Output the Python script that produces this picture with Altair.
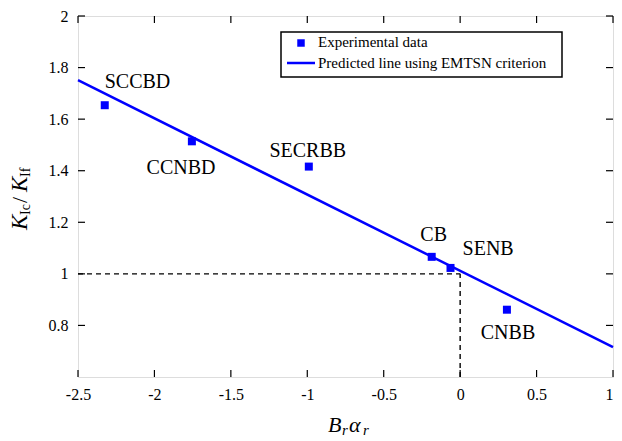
import altair as alt
import pandas as pd

# ---- data ----
specimens = ["SCCBD", "CCNBD", "SECRBB", "CB", "SENB", "CNBB"]
br_ar = [-2.325, -1.755, -0.99, -0.186, -0.063, 0.306]
kic_kif = [1.654, 1.514, 1.416, 1.066, 1.023, 0.861]

label_x = [-2.111, -1.826, -0.997, -0.173, 0.183, 0.313]
label_y = [1.72, 1.389, 1.455, 1.128, 1.074, 0.747]

line_x = [-2.5, 1.0]
line_y = [1.751, 0.716]

x_ticks = [-2.5, -2, -1.5, -1, -0.5, 0, 0.5, 1]
y_ticks = [0.8, 1, 1.2, 1.4, 1.6, 1.8, 2]

ref_h_x = [-2.5]
ref_h_x2 = [0.0]
ref_h_y = [1.0]
ref_v_x = [0.0]
ref_v_y = [0.6]
ref_v_y2 = [1.0]

legend_labels = ["Experimental data", "Predicted line using EMTSN criterion"]

FONT = "Liberation Serif"
BLUE = "#0000ff"
W, H = 535, 361

xscale = alt.Scale(domain=[-2.5, 1], nice=False, zero=False)
yscale = alt.Scale(domain=[0.6, 2], nice=False, zero=False)

x_axis = alt.Axis(values=x_ticks, ticks=False, domain=False, grid=False, labelFlush=False,
                  labelAlign={"condition": {"test": "datum.value == 1", "value": "right"},
                              "value": "center"},
                  labelExpr="toString(datum.value)", labelPadding=9,
                  labelFont=FONT, labelFontSize=16, labelColor="black", title=None)
y_axis = alt.Axis(values=y_ticks, ticks=False, domain=False, grid=False, labelFlush=False,
                  labelExpr="toString(datum.value)", labelPadding=10,
                  labelFont=FONT, labelFontSize=16, labelColor="black", title=None)


def X(f="x"):
    return alt.X(f"{f}:Q", scale=xscale, axis=x_axis)


def Y(f="y"):
    return alt.Y(f"{f}:Q", scale=yscale, axis=y_axis)


pts = pd.DataFrame({"x": br_ar, "y": kic_kif, "name": specimens})
labs = pd.DataFrame({"x": label_x, "y": label_y, "name": specimens})
line_df = pd.DataFrame({"x": line_x, "y": line_y})
xt = pd.DataFrame({"x": x_ticks})
yt = pd.DataFrame({"y": y_ticks})
refh = pd.DataFrame({"x": ref_h_x, "x2": ref_h_x2, "y": ref_h_y})
refv = pd.DataFrame({"x": ref_v_x, "y": ref_v_y, "y2": ref_v_y2})

points = alt.Chart(pts).mark_square(size=64, color=BLUE, opacity=1).encode(x=X(), y=Y())

pred = alt.Chart(line_df).mark_line(color=BLUE, strokeWidth=2.5).encode(x=X(), y=Y())

dash_h = alt.Chart(refh).mark_rule(color="black", strokeWidth=1.4, strokeDash=[5, 4]).encode(
    x=X(), x2="x2:Q", y=Y())
dash_v = alt.Chart(refv).mark_rule(color="black", strokeWidth=1.4, strokeDash=[5, 4]).encode(
    x=X(), y=Y(), y2="y2:Q")

tick_b = alt.Chart(xt).mark_rule(color="black", strokeWidth=1.2).encode(
    x=X(), y=alt.value(H), y2=alt.value(H - 7))
tick_t = alt.Chart(xt).mark_rule(color="black", strokeWidth=1.2).encode(
    x=X(), y=alt.value(0), y2=alt.value(7))
tick_l = alt.Chart(yt).mark_rule(color="black", strokeWidth=1.2).encode(
    y=Y(), x=alt.value(0), x2=alt.value(7))
tick_r = alt.Chart(yt).mark_rule(color="black", strokeWidth=1.2).encode(
    y=Y(), x=alt.value(W), x2=alt.value(W - 7))

labels = alt.Chart(labs).mark_text(font=FONT, fontSize=20, align="center",
                                   baseline="alphabetic", color="black").encode(
    x=X(), y=Y(), text="name:N")

one = alt.Data(values=[{}])

# legend (manual box)
leg_box = alt.Chart(one).mark_rect(fill="white", stroke="black", strokeWidth=1.5).encode(
    x=alt.value(203), x2=alt.value(484), y=alt.value(16), y2=alt.value(61))
leg_sq = alt.Chart(one).mark_square(size=56, color=BLUE, opacity=1).encode(
    x=alt.value(223), y=alt.value(27))
leg_ln = alt.Chart(one).mark_rule(color=BLUE, strokeWidth=2.5).encode(
    x=alt.value(209), x2=alt.value(237), y=alt.value(47))
leg_t1 = alt.Chart(one).mark_text(font=FONT, fontSize=15, align="left", baseline="alphabetic",
                                  color="black").encode(
    x=alt.value(240), y=alt.value(31), text=alt.value(legend_labels[0]))
leg_t2 = alt.Chart(one).mark_text(font=FONT, fontSize=15, align="left", baseline="alphabetic",
                                  color="black").encode(
    x=alt.value(240), y=alt.value(52), text=alt.value(legend_labels[1]))


def txt(s, x, y, size, italic=True, angle=0):
    return alt.Chart(one).mark_text(font=FONT, fontSize=size, align="left",
                                    baseline="alphabetic", color="black",
                                    fontStyle="italic" if italic else "normal",
                                    angle=angle).encode(
        x=alt.value(x), y=alt.value(y), text=alt.value(s))


# y title: K_Ic / K_If (rotated)
yt_parts = [
    txt("K", -51, 214, 23, True, 270),
    txt("Ic", -48, 199, 14, False, 270),
    txt("/", -51, 187, 22, False, 270),
    txt("K", -51, 176, 23, True, 270),
    txt("If", -48, 161, 14, False, 270),
]
# x title: B_r alpha_r
xt_parts = [
    txt("B", 250, 416, 22, True),
    txt("r", 264, 419, 15, True),
    txt("α", 271, 416, 22, True),
    txt("r", 285, 419, 15, True),
]

chart = alt.layer(
    dash_h, dash_v, pred, points, labels,
    tick_b, tick_t, tick_l, tick_r,
    leg_box, leg_sq, leg_ln, leg_t1, leg_t2,
    *yt_parts, *xt_parts,
).properties(
    width=W, height=H,
    autosize=alt.AutoSizeParams(type="none"),
    padding={"left": 70, "top": 8, "right": 1, "bottom": 62},
).configure_view(stroke="black", strokeWidth=1.5).configure(background="white")

chart.save("out.html", embed_options={"renderer": "svg", "actions": False})
